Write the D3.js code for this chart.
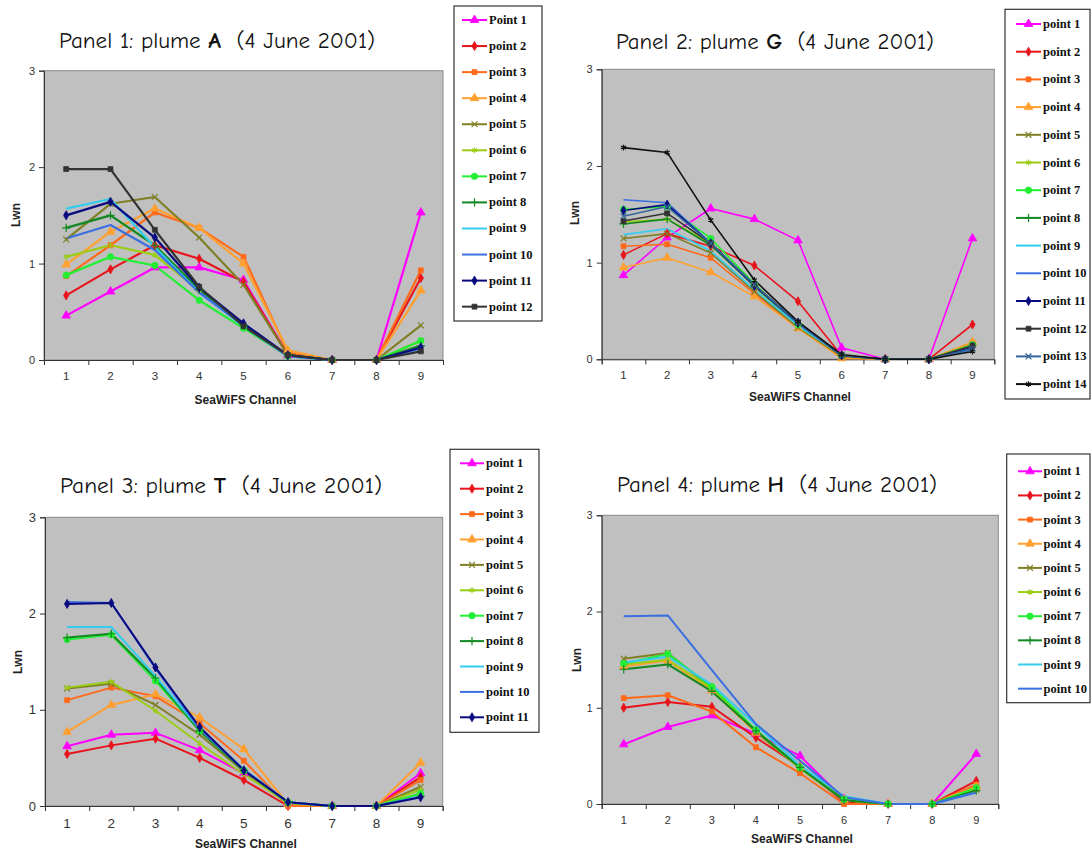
<!DOCTYPE html>
<html>
<head>
<meta charset="utf-8">
<script src="https://cdn.jsdelivr.net/npm/d3@7"></script>
<style>
  body { margin: 0; background: #fff; }
  svg { display: block; }
</style>
</head>
<body>
<div id="chart"></div>
<script>
// SeaWiFS channels on the x axis
const channels = ["1", "2", "3", "4", "5", "6", "7", "8", "9"];
const yTicks = [0, 1, 2, 3];

// Panel 1: plume A
const p1Names = ["Point 1", "point 2", "point 3", "point 4", "point 5", "point 6",
  "point 7", "point 8", "point 9", "point 10", "point 11", "point 12"];
const p1Values = [
  [0.46, 0.71, 0.96, 0.96, 0.83, 0.05, 0, 0, 1.53],
  [0.67, 0.94, 1.19, 1.05, 0.81, 0.05, 0, 0, 0.85],
  [0.87, 1.19, 1.53, 1.37, 1.07, 0.08, 0, 0, 0.93],
  [0.99, 1.33, 1.57, 1.37, 1.00, 0.10, 0, 0, 0.72],
  [1.25, 1.62, 1.69, 1.27, 0.78, 0.05, 0, 0, 0.36],
  [1.07, 1.19, 1.09, 0.72, 0.35, 0.05, 0, 0, 0.20],
  [0.88, 1.07, 0.98, 0.62, 0.33, 0.04, 0, 0, 0.20],
  [1.37, 1.50, 1.19, 0.73, 0.36, 0.05, 0, 0, 0.15],
  [1.57, 1.67, 1.17, 0.70, 0.35, 0.04, 0, 0, 0.12],
  [1.26, 1.40, 1.14, 0.70, 0.36, 0.04, 0, 0, 0.12],
  [1.50, 1.64, 1.27, 0.75, 0.38, 0.05, 0, 0, 0.13],
  [1.98, 1.98, 1.35, 0.76, 0.35, 0.05, 0, 0, 0.09]
];

// Panel 2: plume G
const p2Names = ["point 1", "point 2", "point 3", "point 4", "point 5", "point 6",
  "point 7", "point 8", "point 9", "point 10", "point 11", "point 12", "point 13", "point 14"];
const p2Values = [
  [0.87, 1.26, 1.56, 1.45, 1.23, 0.12, 0, 0, 1.25],
  [1.08, 1.30, 1.17, 0.97, 0.60, 0.04, 0, 0, 0.36],
  [1.17, 1.19, 1.05, 0.68, 0.33, 0.02, 0, 0, 0.17],
  [0.95, 1.05, 0.90, 0.65, 0.32, 0.01, 0, 0, 0.18],
  [1.25, 1.30, 1.10, 0.70, 0.33, 0.03, 0, 0, 0.15],
  [1.42, 1.45, 1.20, 0.75, 0.35, 0.04, 0, 0, 0.15],
  [1.55, 1.58, 1.25, 0.78, 0.36, 0.04, 0, 0, 0.15],
  [1.40, 1.45, 1.18, 0.76, 0.36, 0.04, 0, 0, 0.14],
  [1.29, 1.35, 1.12, 0.72, 0.35, 0.04, 0, 0, 0.12],
  [1.65, 1.62, 1.20, 0.76, 0.37, 0.04, 0, 0, 0.10],
  [1.54, 1.60, 1.20, 0.76, 0.38, 0.04, 0, 0, 0.13],
  [1.43, 1.51, 1.20, 0.77, 0.38, 0.04, 0, 0, 0.14],
  [1.48, 1.58, 1.20, 0.77, 0.38, 0.04, 0, 0, 0.11],
  [2.19, 2.14, 1.44, 0.82, 0.39, 0.05, 0, 0, 0.08]
];

// Panel 3: plume T
const p3Names = ["point 1", "point 2", "point 3", "point 4", "point 5", "point 6",
  "point 7", "point 8", "point 9", "point 10", "point 11"];
const p3Values = [
  [0.62, 0.74, 0.76, 0.58, 0.34, 0.03, 0, 0, 0.34],
  [0.54, 0.63, 0.70, 0.50, 0.27, 0.00, 0, 0, 0.30],
  [1.10, 1.23, 1.14, 0.86, 0.47, 0.00, 0, 0, 0.27],
  [0.77, 1.05, 1.16, 0.92, 0.59, 0.02, 0, 0, 0.45],
  [1.22, 1.27, 1.05, 0.74, 0.36, 0.03, 0, 0, 0.20],
  [1.23, 1.29, 0.99, 0.65, 0.33, 0.03, 0, 0, 0.17],
  [1.73, 1.78, 1.30, 0.78, 0.37, 0.04, 0, 0, 0.13],
  [1.75, 1.79, 1.33, 0.78, 0.37, 0.04, 0, 0, 0.10],
  [1.86, 1.86, 1.35, 0.80, 0.38, 0.04, 0, 0, 0.10],
  [2.12, 2.11, 1.43, 0.80, 0.38, 0.04, 0, 0, 0.09],
  [2.10, 2.11, 1.44, 0.82, 0.37, 0.04, 0, 0, 0.09]
];

// Panel 4: plume H
const p4Names = ["point 1", "point 2", "point 3", "point 4", "point 5", "point 6",
  "point 7", "point 8", "point 9", "point 10"];
const p4Values = [
  [0.62, 0.80, 0.92, 0.73, 0.50, 0.05, 0, 0, 0.52],
  [1.00, 1.06, 1.01, 0.69, 0.39, 0.02, 0, 0, 0.24],
  [1.10, 1.13, 0.96, 0.59, 0.32, 0.00, 0, 0, 0.20],
  [1.43, 1.49, 1.18, 0.74, 0.38, 0.04, 0, 0, 0.18],
  [1.51, 1.57, 1.20, 0.75, 0.37, 0.04, 0, 0, 0.15],
  [1.45, 1.50, 1.20, 0.76, 0.37, 0.04, 0, 0, 0.16],
  [1.46, 1.56, 1.22, 0.77, 0.38, 0.05, 0, 0, 0.17],
  [1.40, 1.45, 1.17, 0.76, 0.38, 0.04, 0, 0, 0.14],
  [1.47, 1.53, 1.24, 0.82, 0.40, 0.08, 0, 0, 0.12],
  [1.95, 1.96, 1.39, 0.83, 0.45, 0.07, 0, 0, 0.12]
];

// Excel-like series styles (shared order)
const seriesColors = ["#ff00ff", "#e8141c", "#ff6a1a", "#ffa030", "#7f7f26", "#9acd14",
  "#22ee33", "#118822", "#33ccee", "#3b6fe0", "#0a0a80", "#333333", "#336699", "#111111"];
const seriesMarkers = ["triangle", "diamond", "square", "triangle", "x", "asterisk",
  "circle", "plus", "none", "none", "diamond", "square", "x", "asterisk"];

const panels = [
  { title: "Panel 1: plume ", code: "A", names: p1Names, values: p1Values,
    plot: [44, 70.7, 443, 360], titleX: 59, titleY: 48, titleW: 316,
    legend: [454, 6, 542, 321], legFirst: 20, legStep: 26.06, legLine: [462, 487], legText: 489,
    tickFont: 11, xLabelY: 404, lwn: [16, 215], lineW: 2.2 },
  { title: "Panel 2: plume ", code: "G", names: p2Names, values: p2Values,
    plot: [601.7, 69.3, 994.3, 359.3], titleX: 616, titleY: 49, titleW: 318,
    legend: [1005, 9.3, 1090, 399], legFirst: 24, legStep: 27.7, legLine: [1016, 1041], legText: 1043,
    tickFont: 11, xLabelY: 401, lwn: [575, 213], lineW: 1.6 },
  { title: "Panel 3: plume ", code: "T", names: p3Names, values: p3Values,
    plot: [45, 517.3, 442.7, 806], titleX: 60, titleY: 493, titleW: 322,
    legend: [450, 449.3, 539, 732.3], legFirst: 463.3, legStep: 25.4, legLine: [460, 484], legText: 486,
    tickFont: 13, xLabelY: 848, lwn: [18, 662], lineW: 2 },
  { title: "Panel 4: plume ", code: "H", names: p4Names, values: p4Values,
    plot: [601.7, 515.3, 998.3, 804], titleX: 617, titleY: 492, titleW: 320,
    legend: [1006.7, 454, 1090, 702.7], legFirst: 471.3, legStep: 24.15, legLine: [1018, 1042], legText: 1043.5,
    tickFont: 10.5, xLabelY: 843, lwn: [577, 660], lineW: 2 }
];

const svg = d3.select("#chart").append("svg")
  .attr("width", 1092)
  .attr("height", 854);

function markerPath(kind) {
  const map = {
    triangle: d3.symbolTriangle, diamond: d3.symbolDiamond, square: d3.symbolSquare,
    circle: d3.symbolCircle, x: d3.symbolX, plus: d3.symbolPlus, asterisk: d3.symbolAsterisk
  };
  let size = 32;
  if (kind === "diamond" || kind === "square") size = 24;
  if (kind === "x" || kind === "plus" || kind === "asterisk") size = 24;
  return d3.symbol().type(map[kind]).size(size)();
}

function drawMarker(g, kind, color, x, y) {
  if (kind === "none") return;
  const stroked = (kind === "x" || kind === "plus" || kind === "asterisk");
  g.append("path")
    .attr("d", markerPath(kind))
    .attr("transform", `translate(${x},${y})`)
    .attr("fill", stroked ? "none" : color)
    .attr("stroke", color)
    .attr("stroke-width", stroked ? 1.2 : 0.8);
}

function drawPanel(p) {
  const [x0, y0, x1, y1] = p.plot;
  const g = svg.append("g");

  const x = d3.scaleBand().domain(channels).range([x0, x1]);
  const xEdge = d3.scaleLinear().domain([0, 9]).range([x0, x1]);
  const y = d3.scaleLinear().domain([0, 3]).range([y1, y0]);

  // plot area
  g.append("rect")
    .attr("x", x0).attr("y", y0)
    .attr("width", x1 - x0).attr("height", y1 - y0)
    .attr("fill", "#c0c0c0")
    .attr("stroke", "#8a8a8a")
    .attr("stroke-width", 1);

  // y axis
  const yAxis = g.append("g")
    .attr("transform", `translate(${x0},0)`)
    .call(d3.axisLeft(y).tickValues(yTicks).tickSize(5).tickPadding(4).tickFormat(d3.format("d")));
  yAxis.select(".domain").attr("stroke", "#333");
  yAxis.selectAll(".tick line").attr("stroke", "#333");
  yAxis.selectAll("text").attr("fill", "#333").style("font-family", "Liberation Sans, Arial, sans-serif")
    .style("font-size", p.tickFont + "px");

  // x axis: ticks on band edges, labels on band centres
  const xTicksG = g.append("g")
    .attr("transform", `translate(0,${y1})`)
    .call(d3.axisBottom(xEdge).tickValues(d3.range(10)).tickSize(5).tickFormat(""));
  xTicksG.select(".domain").attr("stroke", "#333");
  xTicksG.selectAll(".tick line").attr("stroke", "#333");

  const xLab = g.append("g")
    .attr("transform", `translate(0,${y1})`)
    .call(d3.axisBottom(x).tickSize(0).tickPadding(12));
  xLab.select(".domain").remove();
  xLab.selectAll("text").attr("fill", "#333").style("font-family", "Liberation Sans, Arial, sans-serif")
    .style("font-size", (p.tickFont + 0.5) + "px");

  // axis titles
  g.append("text")
    .attr("x", (x0 + x1) / 2 + 2)
    .attr("y", p.xLabelY)
    .attr("text-anchor", "middle")
    .attr("fill", "#222")
    .style("font-family", "Liberation Sans, Arial, sans-serif")
    .style("font-weight", "bold")
    .style("font-size", "12px")
    .text("SeaWiFS Channel");

  g.append("text")
    .attr("transform", `translate(${p.lwn[0] + 4},${p.lwn[1]}) rotate(-90)`)
    .attr("text-anchor", "middle")
    .attr("fill", "#222")
    .style("font-family", "Liberation Sans, Arial, sans-serif")
    .style("font-weight", "bold")
    .style("font-size", "12px")
    .text("Lwn");

  // title
  const t = g.append("text")
    .attr("x", p.titleX)
    .attr("y", p.titleY)
    .attr("textLength", p.titleW)
    .attr("lengthAdjust", "spacingAndGlyphs")
    .attr("fill", "#111")
    .style("font-family", "'Comic Sans MS', 'Comic Neue', Lato, sans-serif")
    .style("font-size", "22px");
  t.append("tspan").text(p.title);
  t.append("tspan").style("font-weight", "bold").text(p.code);
  t.append("tspan").text("\u00a0\u00a0(4 June 2001)");

  // series
  const line = d3.line()
    .x((d, i) => x(channels[i]) + x.bandwidth() / 2)
    .y(d => y(d));

  p.values.forEach((vals, si) => {
    const color = seriesColors[si];
    g.append("path")
      .datum(vals)
      .attr("d", line)
      .attr("fill", "none")
      .attr("stroke", color)
      .attr("stroke-width", p.lineW)
      .attr("stroke-linejoin", "round");
  });
  p.values.forEach((vals, si) => {
    vals.forEach((v, i) => {
      drawMarker(g, seriesMarkers[si], seriesColors[si], x(channels[i]) + x.bandwidth() / 2, y(v));
    });
  });

  // legend
  const [lx0, ly0, lx1, ly1] = p.legend;
  g.append("rect")
    .attr("x", lx0).attr("y", ly0)
    .attr("width", lx1 - lx0).attr("height", ly1 - ly0)
    .attr("fill", "#fff")
    .attr("stroke", "#333")
    .attr("stroke-width", 1.2);

  p.names.forEach((name, si) => {
    const ly = p.legFirst + si * p.legStep;
    const color = seriesColors[si];
    g.append("line")
      .attr("x1", p.legLine[0]).attr("x2", p.legLine[1])
      .attr("y1", ly).attr("y2", ly)
      .attr("stroke", color)
      .attr("stroke-width", 2);
    drawMarker(g, seriesMarkers[si], color, (p.legLine[0] + p.legLine[1]) / 2, ly);
    g.append("text")
      .attr("x", p.legText)
      .attr("y", ly + 4)
      .attr("fill", "#111")
      .style("font-family", "Liberation Serif, 'Times New Roman', serif")
      .style("font-weight", "bold")
      .style("font-size", "12.5px")
      .text(name);
  });
}

panels.forEach(drawPanel);
</script>
</body>
</html>
